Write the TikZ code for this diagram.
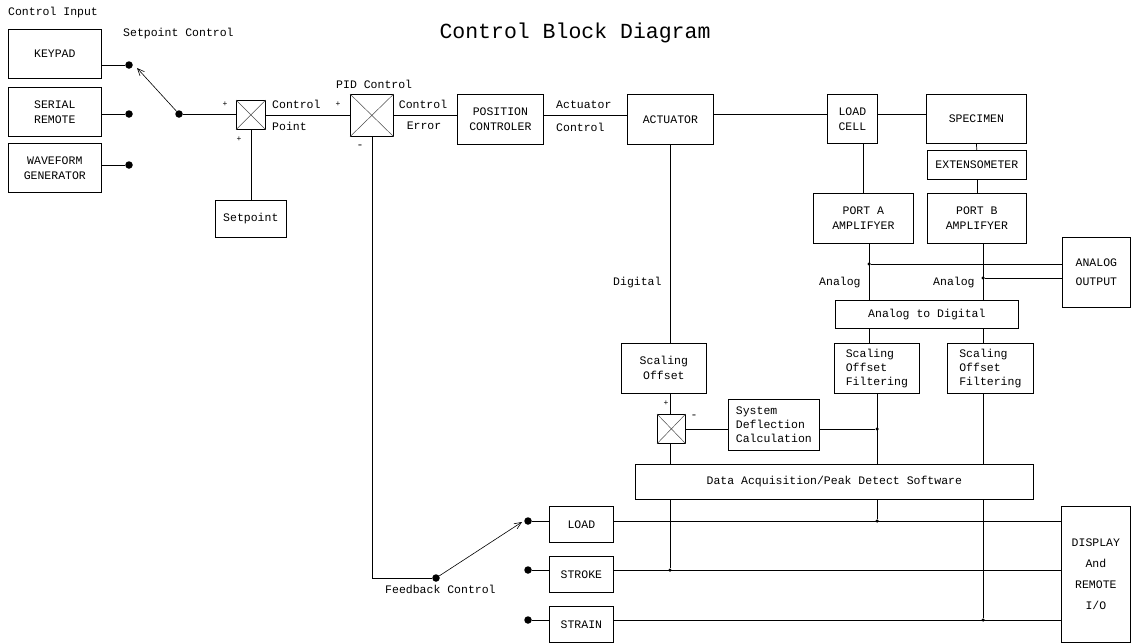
\documentclass[tikz,border=0pt]{standalone}
\usepackage{fontspec}
\setmainfont{Liberation Mono}
\usetikzlibrary{arrows.meta}
\begin{document}
\begin{tikzpicture}[x=1pt,y=-1pt,
  every node/.style={font=\fontsize{11.5}{15}\selectfont, inner sep=0pt},
  box/.style={draw, line width=0.7pt, anchor=north west, align=center},
  ln/.style={line width=0.7pt},
  arr/.style={line width=0.6pt, -{Straight Barb[length=7pt,width=6pt]}},
  dot/.style={circle, fill, inner sep=0pt, minimum size=7.5pt},
  sdot/.style={circle, fill, inner sep=0pt, minimum size=3.5pt},
  lbl/.style={anchor=west},
  sumx/.style={line width=0.5pt, draw=black!70}]
\fill[white] (0,0) rectangle (1131,643);
\useasboundingbox (0,0) rectangle (1131,643);

% title and labels
\node[font=\fontsize{21.5}{24}\selectfont] (title) at (575,33) {Control Block Diagram};
\node[lbl] (tci) at (8,13) {Control Input};
\node[lbl] (tsc) at (123,34) {Setpoint Control};
\node (p1) at (225,104) {\fontsize{8}{8}\selectfont +};
\node (p2) at (239,139) {\fontsize{8}{8}\selectfont +};
\node[lbl] (tcp1) at (272,104) {Control};
\node[lbl] (tcp2) at (272,126) {Point};
\node (p3) at (338,104) {\fontsize{8}{8}\selectfont +};
\node[lbl] (tpid) at (336,84) {PID Control};
\node (m1) at (360,147) {-};
\node (tce1) at (423,104) {Control};
\node (tce2) at (424,126) {Error};
\node[lbl] (tac1) at (556,105) {Actuator};
\node[lbl] (tac2) at (556,127) {Control};
\node[lbl] (tdig) at (613,283) {Digital};
\node[lbl] (tan1) at (819,283) {Analog};
\node[lbl] (tan2) at (933,283) {Analog};
\node (p4) at (666,403) {\fontsize{8}{8}\selectfont +};
\node (m2) at (694,417) {-};
\node[lbl] (tfb) at (385,589) {Feedback Control};

% boxes
\node[box, minimum width=93pt, minimum height=49pt] (keypad) at (8,29) {KEYPAD};
\node[box, minimum width=93pt, minimum height=49pt] (serial) at (8,87) {SERIAL\\REMOTE};
\node[box, minimum width=93pt, minimum height=49pt] (wave) at (8,143) {WAVEFORM\\GENERATOR};
\node[box, minimum width=71pt, minimum height=37pt] (setpt) at (215,200) {Setpoint};
\node[box, minimum width=29pt, minimum height=29pt] (sum1) at (236,100) {};
\node[box, minimum width=43pt, minimum height=42pt] (pid) at (350,94) {};
\node[box, minimum width=86pt, minimum height=50pt] (posctl) at (457,94) {POSITION\\CONTROLER};
\node[box, minimum width=86pt, minimum height=50pt] (actuator) at (627,94) {ACTUATOR};
\node[box, minimum width=50pt, minimum height=49pt] (loadcell) at (827,94) {LOAD\\CELL};
\node[box, minimum width=100pt, minimum height=49pt] (specimen) at (926,94) {SPECIMEN};
\node[box, minimum width=99pt, minimum height=29pt] (extenso) at (927,150) {EXTENSOMETER};
\node[box, minimum width=100pt, minimum height=50pt] (portA) at (813,193) {PORT A\\AMPLIFYER};
\node[box, minimum width=99pt, minimum height=50pt] (portB) at (927,193) {PORT B\\AMPLIFYER};
\node[box, minimum width=68pt, minimum height=70pt, font=\fontsize{11.5}{19}\selectfont] (anout) at (1062,237) {ANALOG\\OUTPUT};
\node[box, minimum width=183pt, minimum height=28pt] (a2d) at (835,300) {Analog to Digital};
\node[box, minimum width=85pt, minimum height=50pt] (scal0) at (621,343) {Scaling\\Offset};
\node[box, minimum width=85pt, minimum height=50pt, align=left, font=\fontsize{11.5}{14}\selectfont] (scal1) at (834,343) {Scaling\\Offset\\Filtering};
\node[box, minimum width=86pt, minimum height=50pt, align=left, font=\fontsize{11.5}{14}\selectfont] (scal2) at (947,343) {Scaling\\Offset\\Filtering};
\node[box, minimum width=28pt, minimum height=29pt] (sum2) at (657,414) {};
\node[box, minimum width=91pt, minimum height=51pt, align=left, font=\fontsize{11.5}{14}\selectfont] (sysdef) at (728,399) {System\\Deflection\\Calculation};
\node[box, minimum width=398pt, minimum height=35pt] (daq) at (635,464) {Data Acquisition/Peak Detect Software};
\node[box, minimum width=64pt, minimum height=36pt] (load) at (549,506) {LOAD};
\node[box, minimum width=64pt, minimum height=36pt] (stroke) at (549,556) {STROKE};
\node[box, minimum width=64pt, minimum height=36pt] (strain) at (549,606) {STRAIN};
\node[box, minimum width=69pt, minimum height=136pt, font=\fontsize{11.5}{21}\selectfont] (display) at (1061,506) {DISPLAY\\And\\REMOTE\\I/O};

% summing crosses
\draw[sumx] (sum1.north west) -- (sum1.south east) (sum1.north east) -- (sum1.south west);
\draw[sumx] (pid.north west) -- (pid.south east) (pid.north east) -- (pid.south west);
\draw[sumx] (sum2.north west) -- (sum2.south east) (sum2.north east) -- (sum2.south west);

% dots and junctions
\node[dot] (kd) at (129,65) {};
\node[dot] (sd1) at (129,114) {};
\node[dot] (wd) at (129,165) {};
\node[dot] (sd) at (179,114) {};
\coordinate (spt) at (137,68);
\node[dot] (fb) at (436,578) {};
\coordinate (fbt) at (522,522);
\node[dot] (ld) at (528,521) {};
\node[dot] (sk) at (528,570) {};
\node[dot] (sn) at (528,620) {};
\coordinate (r1) at (0,114);
\node[sdot] (ja) at (869,264) {};
\node[sdot] (jb) at (983,278) {};
\node[sdot] (jc) at (877,429) {};
\node[sdot] (jd) at (877,521) {};
\node[sdot] (je) at (983,620) {};
\node[sdot] (jf) at (670,570) {};

% connectors
\draw[ln] (keypad.east |- kd) -- (kd);
\draw[ln] (serial.east |- sd1) -- (sd1);
\draw[ln] (wave.east |- wd) -- (wd);
\draw[arr] (sd) -- (spt);
\draw[ln] (sd) -- (sd -| sum1.west);
\draw[ln] (sum1.east) -- (sum1.east -| pid.west);
\draw[ln] (sum1.south) -- (setpt.north);
\draw[ln] (pid.east) -- (pid.east -| posctl.west);
\draw[ln] (posctl.east |- pid.east) -- (actuator.west |- pid.east);
\draw[ln] (actuator.east |- r1) -- (loadcell.west |- r1);
\draw[ln] (loadcell.east |- r1) -- (specimen.west |- r1);
\draw[ln] (specimen.south) -- (extenso.north);
\draw[ln] (extenso.south) -- (portB.north);
\draw[ln] (loadcell.south -| portA.north) -- (portA.north);
\draw[ln] (portA.south -| ja) -- (a2d.north -| ja);
\draw[ln] (ja) -- (ja -| anout.west);
\draw[ln] (portB.south -| jb) -- (a2d.north -| jb);
\draw[ln] (jb) -- (jb -| anout.west);
\draw[ln] (a2d.south -| ja) -- (scal1.north -| ja);
\draw[ln] (a2d.south -| jb) -- (scal2.north -| jb);
\draw[ln] (scal1.south -| jc) -- (daq.north -| jc);
\draw[ln] (daq.south -| jd) -- (jd);
\draw[ln] (scal2.south -| jb) -- (daq.north -| jb);
\draw[ln] (daq.south -| jb) -- (je);
\draw[ln] (sum2.east) -- (sum2.east -| sysdef.west);
\draw[ln] (sysdef.east |- jc) -- (jc);
\draw[ln] (actuator.south -| jf) -- (scal0.north -| jf);
\draw[ln] (scal0.south -| jf) -- (sum2.north -| jf);
\draw[ln] (sum2.south -| jf) -- (daq.north -| jf);
\draw[ln] (daq.south -| jf) -- (jf);
\draw[ln] (pid.south) |- (fb);
\draw[arr] (fb) -- (fbt);
\draw[ln] (ld) -- (ld -| load.west);
\draw[ln] (sk) -- (sk -| stroke.west);
\draw[ln] (sn) -- (sn -| strain.west);
\draw[ln] (load.east |- ld) -- (display.west |- ld);
\draw[ln] (stroke.east |- sk) -- (display.west |- sk);
\draw[ln] (strain.east |- sn) -- (display.west |- sn);
\end{tikzpicture}
\end{document}
